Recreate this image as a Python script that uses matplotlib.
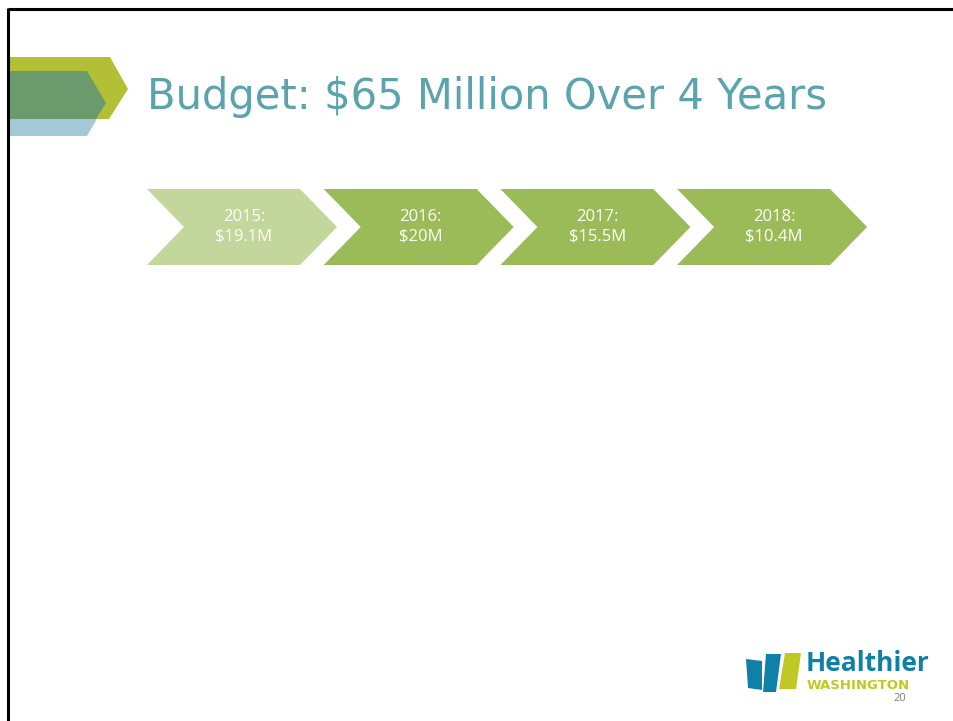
import matplotlib.pyplot as plt
from matplotlib.patches import Polygon
import numpy as np

# budget per year
years = ["2015", "2016", "2017", "2018"]
amounts = ["$19.1M", "$20M", "$15.5M", "$10.4M"]
colors = ["#c3d69b", "#9bbb59", "#9bbb59", "#9bbb59"]
title = "Budget: $65 Million Over 4 Years"

fig = plt.figure(figsize=(9.54, 7.21), dpi=100)
ax = fig.add_axes([0, 0, 1, 1])
ax.set_xlim(0, 954)
ax.set_ylim(721, 0)
ax.axis("off")

# slide border (top and left)
ax.plot([8, 954], [8.5, 8.5], color="black", lw=2.2, solid_capstyle="butt")
ax.plot([8.5, 8.5], [8, 721], color="black", lw=2.2, solid_capstyle="butt")

# title decoration
ax.add_patch(Polygon([(10, 71), (98, 71), (106, 103), (87, 136), (10, 136)],
                     closed=True, color="#a3c8d8", lw=0))
ax.add_patch(Polygon([(10, 57), (110, 57), (128, 89), (109, 119), (10, 119)],
                     closed=True, color="#b3c035", lw=0))
ax.add_patch(Polygon([(10, 71), (87, 71), (106, 103), (96, 119), (10, 119)],
                     closed=True, color="#6b9a6c", lw=0))

ax.text(147, 97, title, fontsize=30, color="#5ba3ad", ha="left", va="center",
        family="DejaVu Sans")

# chevrons
top, bot = 189, 265
mid = (top + bot) / 2
w, d, step = 153, 37, 176.7
for i, (yr, amt) in enumerate(zip(years, amounts)):
    x0 = 147 + i * step
    pts = [(x0, top), (x0 + w, top), (x0 + w + d, mid), (x0 + w, bot),
           (x0, bot), (x0 + d, mid)]
    ax.add_patch(Polygon(pts, closed=True, color=colors[i], lw=0))
    cx = x0 + d + (w - d) / 2 + 2
    ax.text(cx, mid - 10, yr + ":", color="white", fontsize=12, ha="center",
            va="center", family="Open Sans")
    ax.text(cx, mid + 10, amt, color="white", fontsize=12, ha="center",
            va="center", family="Open Sans")

# logo
ax.add_patch(Polygon([(746, 659), (762, 661), (762, 690), (748, 688)],
                     closed=True, color="#0f80a8", lw=0))
ax.add_patch(Polygon([(766, 654), (781, 654), (776, 692), (763, 692)],
                     closed=True, color="#0f80a8", lw=0))
ax.add_patch(Polygon([(785, 653), (801, 653), (796, 689), (779, 689)],
                     closed=True, color="#c0c923", lw=0))
ax.text(806, 671, "Healthier", color="#0f80a8", fontsize=19, fontweight="bold",
        ha="left", va="baseline", family="Open Sans")
ax.text(807, 689, "WASHINGTON", color="#c0c923", fontsize=9.5,
        fontweight="bold", ha="left", va="baseline", family="DejaVu Sans")
ax.text(893, 701, "20", color="#808080", fontsize=8, ha="left", va="baseline",
        family="Open Sans")

fig.savefig("out.png", dpi=100)
